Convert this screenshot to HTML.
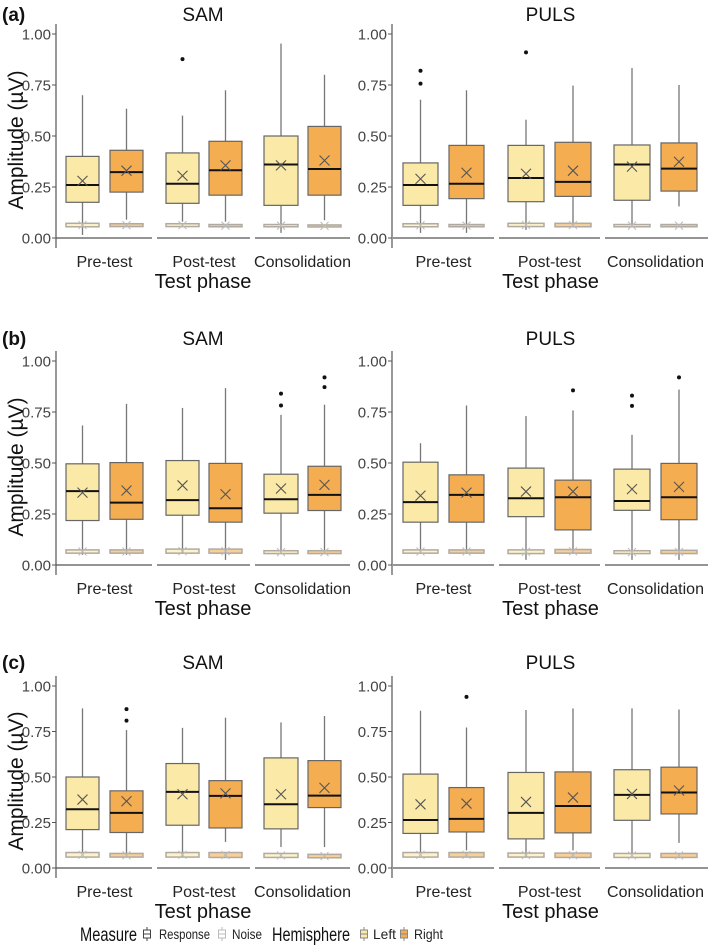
<!DOCTYPE html>
<html><head><meta charset="utf-8"><style>
html,body{margin:0;padding:0;background:#fff;}
svg{display:block;font-family:"Liberation Sans",Arial,sans-serif;}
</style></head><body>
<svg id="chart" width="709" height="948" viewBox="0 0 709 948" xmlns="http://www.w3.org/2000/svg"></svg>
<script>
// Order: panels (a)-SAM, (a)-PULS, (b)-SAM, (b)-PULS, (c)-SAM, (c)-PULS; each 6 boxes: Pre L, Pre R, Post L, Post R, Cons L, Cons R
const phases = ["Pre-test","Post-test","Consolidation"];
const hemispheres = ["Left","Right"];
const panelLetters = ["(a)","(b)","(c)"];
const methods = ["SAM","PULS"];
const yTicks = [0,0.25,0.5,0.75,1.0];
const yTickLabels = ["0.00","0.25","0.50","0.75","1.00"];
const whiskerHi = [0.70,0.634,0.60,0.724,0.953,0.80, 0.678,0.724,0.58,0.747,0.833,0.75,
  0.684,0.79,0.77,0.867,0.736,0.786, 0.597,0.782,0.73,0.758,0.638,0.86,
  0.877,0.758,0.77,0.826,0.80,0.835, 0.864,0.772,0.868,0.877,0.877,0.871];
const q3 = [0.40,0.43,0.417,0.474,0.50,0.547, 0.368,0.454,0.454,0.469,0.456,0.466,
  0.496,0.502,0.512,0.498,0.445,0.484, 0.504,0.442,0.475,0.416,0.47,0.498,
  0.50,0.424,0.574,0.48,0.605,0.59, 0.516,0.442,0.525,0.528,0.54,0.554];
const medians = [0.26,0.323,0.266,0.332,0.36,0.338, 0.26,0.266,0.294,0.275,0.36,0.34,
  0.362,0.306,0.318,0.278,0.322,0.344, 0.308,0.344,0.327,0.332,0.314,0.332,
  0.323,0.303,0.418,0.396,0.35,0.398, 0.264,0.27,0.303,0.341,0.402,0.415];
const q1 = [0.175,0.225,0.17,0.21,0.16,0.21, 0.16,0.193,0.178,0.204,0.185,0.23,
  0.218,0.224,0.244,0.21,0.254,0.267, 0.21,0.21,0.237,0.172,0.268,0.222,
  0.211,0.195,0.235,0.22,0.215,0.332, 0.19,0.198,0.16,0.193,0.262,0.297];
const whiskerLo = [0.015,0.09,0.08,0.08,0.025,0.087, 0.025,0.025,0.04,0.06,0.06,0.155,
  0.05,0.05,0.057,0.025,0.057,0.057, 0.074,0.057,0.025,0.057,0.025,0.025,
  0.08,0.08,0.06,0.143,0.115,0.115, 0.08,0.097,0.06,0.097,0.08,0.138];
const means = [0.28,0.33,0.305,0.356,0.356,0.38, 0.29,0.32,0.315,0.33,0.35,0.374,
  0.355,0.365,0.39,0.347,0.375,0.393, 0.34,0.355,0.36,0.36,0.372,0.383,
  0.376,0.367,0.405,0.41,0.405,0.44, 0.35,0.354,0.363,0.387,0.407,0.426];
const outliers = [[],[],[0.877],[],[],[], [0.82,0.757],[],[0.91],[],[],[],
  [],[],[],[],[0.84,0.782],[0.92,0.872], [],[],[],[0.856],[0.83,0.78],[0.92],
  [],[0.873,0.81],[],[],[],[], [],[0.94],[],[],[],[]];
const noiseQ1 = [0.055,0.056,0.056,0.055,0.055,0.055, 0.055,0.055,0.056,0.055,0.055,0.055,
  0.058,0.058,0.058,0.058,0.056,0.056, 0.058,0.058,0.056,0.058,0.056,0.056,
  0.06,0.06,0.06,0.058,0.058,0.056, 0.06,0.06,0.06,0.058,0.058,0.058];
const noiseQ3 = [0.072,0.07,0.07,0.066,0.066,0.064, 0.07,0.066,0.072,0.072,0.066,0.066,
  0.074,0.074,0.078,0.078,0.07,0.07, 0.074,0.074,0.074,0.076,0.07,0.072,
  0.085,0.08,0.085,0.085,0.08,0.075, 0.085,0.085,0.082,0.082,0.08,0.08];

const svg = document.getElementById('chart');
const NS = "http://www.w3.org/2000/svg";
function el(tag, attrs, parent){const e=document.createElementNS(NS,tag);for(const k in attrs)e.setAttribute(k,attrs[k]);(parent||svg).appendChild(e);return e;}
function txt(s, attrs, parent){const e=el('text',attrs,parent);e.textContent=s;return e;}

const rows = [{zero:238, top:34, title:21},{zero:565, top:361, title:345},{zero:868, top:686, title:669}];
const cols = [
  {axis:56, boxes:[[66,99],[110,143],[166,199],[209,242],[264,298],[308,341]], seps:[[56,152],[157,250],[255,350]]},
  {axis:392, boxes:[[403,438],[449,484],[508,544],[555,591],[614,650],[661,697]], seps:[[393,494],[499,600],[605,708]]}
];
const fills = ["#fbe9a7","#f5ad52"];

rows.forEach((r,ri)=>{
  const y = v => r.zero - v*(r.zero-r.top);
  const lg = el('text',{x:2,y:r.title,'font-size':19,'font-weight':'bold',fill:'#111'});
  lg.textContent = panelLetters[ri];
  
  
  cols.forEach((c,ci)=>{
    const g = el('g',{});
    
    
    const t = txt(methods[ci],{x:(c.seps[0][0]+c.seps[2][1])/2,y:r.title,'text-anchor':'middle','font-size':19,fill:'#111'},g);
    
    
    const ya = el('line',{x1:c.axis,x2:c.axis,y1:r.top-10,y2:r.zero+10,stroke:'#555','stroke-width':1.2},g);
    
    
    yTicks.forEach((v,i)=>{
      el('line',{x1:c.axis-4,x2:c.axis,y1:y(v),y2:y(v),stroke:'#555'},g);
      const tl = txt(yTickLabels[i],{x:c.axis-5,y:y(v)+5.5,'text-anchor':'end','font-size':15,fill:'#444'},g);
      
      
    });
    c.seps.forEach((s,pi)=>{
      el('line',{x1:s[0],x2:s[1],y1:r.zero,y2:r.zero,stroke:'#555','stroke-width':1.2},g);
      const cx=(c.boxes[pi*2][0]+c.boxes[pi*2+1][1])/2;
      const xl = txt(phases[pi],{x:cx,y:r.zero+29,'text-anchor':'middle','font-size':16,fill:'#222'},g);
      
      
    });
    const xt = txt('Test phase',{x:(c.seps[0][0]+c.seps[2][1])/2,y:r.zero+50,'text-anchor':'middle','font-size':20,fill:'#111'},g);
    
    
    if(ci===0){
      const yt = txt('Amplitude (µV)',{x:0,y:0,'text-anchor':'middle','font-size':21,fill:'#111',transform:`translate(23,${(r.zero+r.top)/2+4}) rotate(-90)`},g);
      
      
    }
    c.boxes.forEach((b,bi)=>{
      const k = (ri*2+ci)*6+bi;
      const cx=(b[0]+b[1])/2, w=b[1]-b[0], f=fills[bi%2];
      const bg = el('g',{},g);
      
      
      el('line',{x1:cx,x2:cx,y1:y(whiskerHi[k]),y2:y(q3[k]),stroke:'#777','stroke-width':1.3},bg);
      el('line',{x1:cx,x2:cx,y1:y(q1[k]),y2:y(whiskerLo[k]),stroke:'#777','stroke-width':1.3},bg);
      el('rect',{x:b[0],y:y(q3[k]),width:w,height:y(q1[k])-y(q3[k]),fill:f,stroke:'#666','stroke-width':1.2},bg);
      el('line',{x1:b[0],x2:b[1],y1:y(medians[k]),y2:y(medians[k]),stroke:'#111','stroke-width':2},bg);
      const my=y(means[k]);
      el('path',{d:`M${cx-5},${my-5}L${cx+5},${my+5}M${cx-5},${my+5}L${cx+5},${my-5}`,stroke:'#555','stroke-width':1.1,fill:'none'},bg);
      outliers[k].forEach(o=>{
        const d = el('circle',{cx:cx,cy:y(o),r:2,fill:'#111'},bg);
        
        
      });
      const ny1=y(noiseQ3[k]), ny2=y(noiseQ1[k]);
      const nb = el('rect',{x:b[0],y:ny1,width:w,height:Math.max(ny2-ny1,2),fill:f,'fill-opacity':0.6,stroke:'#b0aaa0','stroke-width':1.5},bg);
      
      
      const nm=y((noiseQ1[k]+noiseQ3[k])/2);
      el('path',{d:`M${cx-4},${nm-4}L${cx+4},${nm+4}M${cx-4},${nm+4}L${cx+4},${nm-4}`,stroke:'#bbb','stroke-width':1,fill:'none'},bg);
    });
  });
});

// legend
const lgd = el('g',{});


function legendIcon(x, stroke, fill){
  const g = el('g',{},lgd);
  el('line',{x1:x,x2:x,y1:927,y2:941,stroke:stroke},g);
  el('rect',{x:x-3.5,y:930,width:7,height:8,fill:fill,stroke:stroke},g);
  el('line',{x1:x-3.5,x2:x+3.5,y1:934,y2:934,stroke:stroke},g);
  return g;
}
function ltxt(s,x,w,size){return txt(s,{x:x,y:size>15?941:939,'font-size':size,fill:size>15?'#111':'#222',textLength:w,lengthAdjust:'spacingAndGlyphs'},lgd);}
const lt1 = ltxt('Measure',80,57,19);


const i1 = legendIcon(147,'#444','#fff');


ltxt('Response',159,51,14);
const i2 = legendIcon(222,'#bbb','#fff');


ltxt('Noise',232,30,14);
const lt2 = ltxt('Hemisphere',272,78,19);


const i3 = legendIcon(364,'#888',fills[0]);


ltxt('Left',373,23,14);
const i4 = legendIcon(404,'#888',fills[1]);


ltxt('Right',414,29,14);
</script>
</body></html>
